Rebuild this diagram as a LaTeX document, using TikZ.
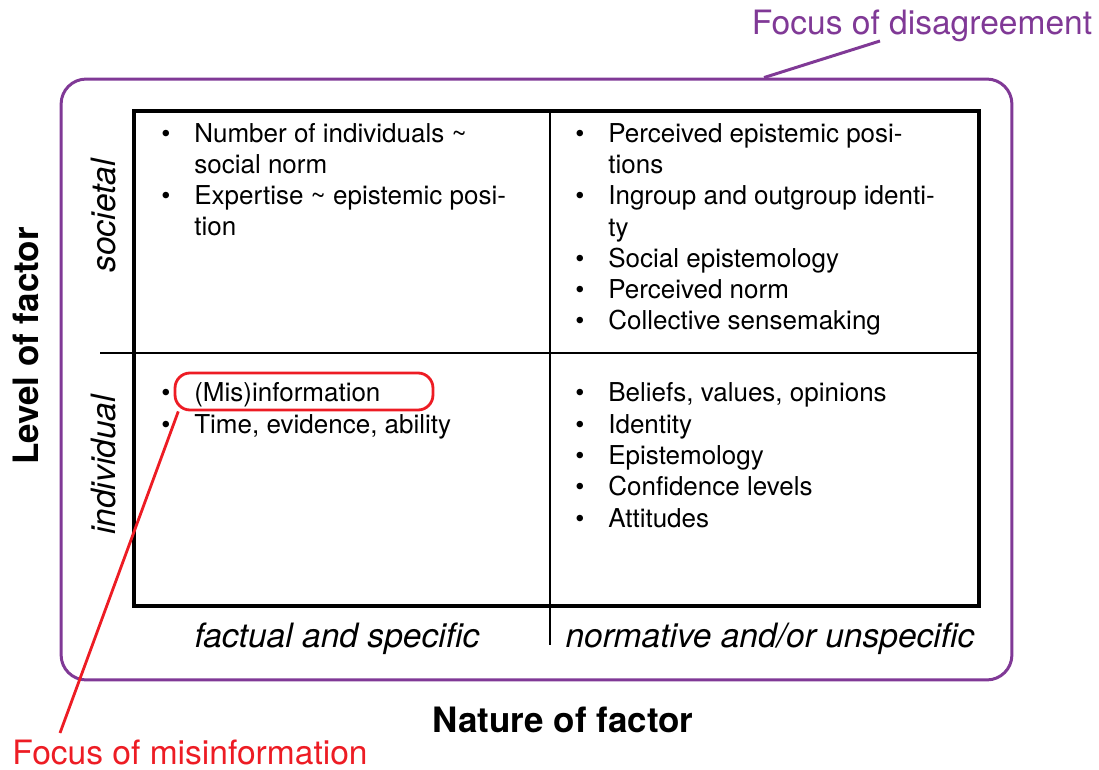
\documentclass[tikz,border=0pt]{standalone}
\usepackage{fontspec}
\setmainfont{TeX Gyre Heros}
\usetikzlibrary{positioning}
\definecolor{disagree}{RGB}{128,57,150}
\definecolor{misinfo}{RGB}{237,28,36}
\newcommand{\bul}{\makebox[0.66cm][l]{\textbullet}}
\newcommand{\ind}{\hspace*{0.66cm}}

\begin{document}
\begin{tikzpicture}
  [x=0.02cm, y=-0.02cm, every node/.style={inner sep=0pt},
   items/.style={anchor=base west, align=left, font=\fontsize{14.8}{17.8}\selectfont},
   side/.style={anchor=base, font=\fontsize{19.1}{22}\selectfont\itshape},
   axis/.style={anchor=base, font=\fontsize{19.9}{23}\selectfont\bfseries},
   focus/.style={anchor=base, font=\fontsize{19.1}{22}\selectfont}]
  \useasboundingbox (0,0) rectangle (1099,770);
  \node (frame) [draw=disagree, line width=1.7pt, rounded corners=0.5cm,
    minimum width=19.02cm, minimum height=12.02cm] at (536.5,379.5) {};
  \node (grid) [draw, line width=2.3pt, minimum width=16.9cm, minimum height=9.9cm]
    at (556.5,358.5) {};
  \draw[line width=0.8pt] (550,111) -- (550,645);
  \draw[line width=0.8pt] (100,353) -- (979,353);
  \node (societal) [side, rotate=90] at (115,216) {societal};
  \node (individual) [side, rotate=90] at (115,465) {individual};
  \node (level) [axis, rotate=90] at (38,346) {Level of factor};
  \node (factual) [side] at (337,647) {factual and specific};
  \node (normative) [side] at (770,647) {normative and/or unspecific};
  \node (nature) [axis] at (563,732) {Nature of factor};
  \node (socfact) [items] at (161,236) {\bul Number of individuals \textasciitilde\\
    \ind social norm\\
    \bul Expertise \textasciitilde{} epistemic posi-\\
    \ind tion};
  \node (socnorm) [items] at (575,330) {\bul Perceived epistemic posi-\\
    \ind tions\\
    \bul Ingroup and outgroup identi-\\
    \ind ty\\
    \bul Social epistemology\\
    \bul Perceived norm\\
    \bul Collective sensemaking};
  \node (indfact) [items] at (161,433) {\bul (Mis)information\\
    \bul Time, evidence, ability};
  \node (indnorm) [items] at (575,527) {\bul Beliefs, values, opinions\\
    \bul Identity\\
    \bul Epistemology\\
    \bul Confidence levels\\
    \bul Attitudes};
  \node (misbox) [draw=misinfo, line width=1.6pt, rounded corners=0.3cm,
    minimum width=5.16cm, minimum height=0.74cm] at (304,391.5) {};
  \node (disagreel) [focus, text=disagree] at (922,35) {Focus of disagreement};
  \node (misinfol) [focus, text=misinfo] at (190,764) {Focus of misinformation};
  \coordinate (disfoot) at (880,41);
  \coordinate (misfoot) at (60,733);
  \draw[disagree, line width=1.7pt] (frame.53) -- (disfoot);
  \draw[misinfo, line width=1.6pt] (misbox.189) -- (misfoot);
\end{tikzpicture}
\end{document}
